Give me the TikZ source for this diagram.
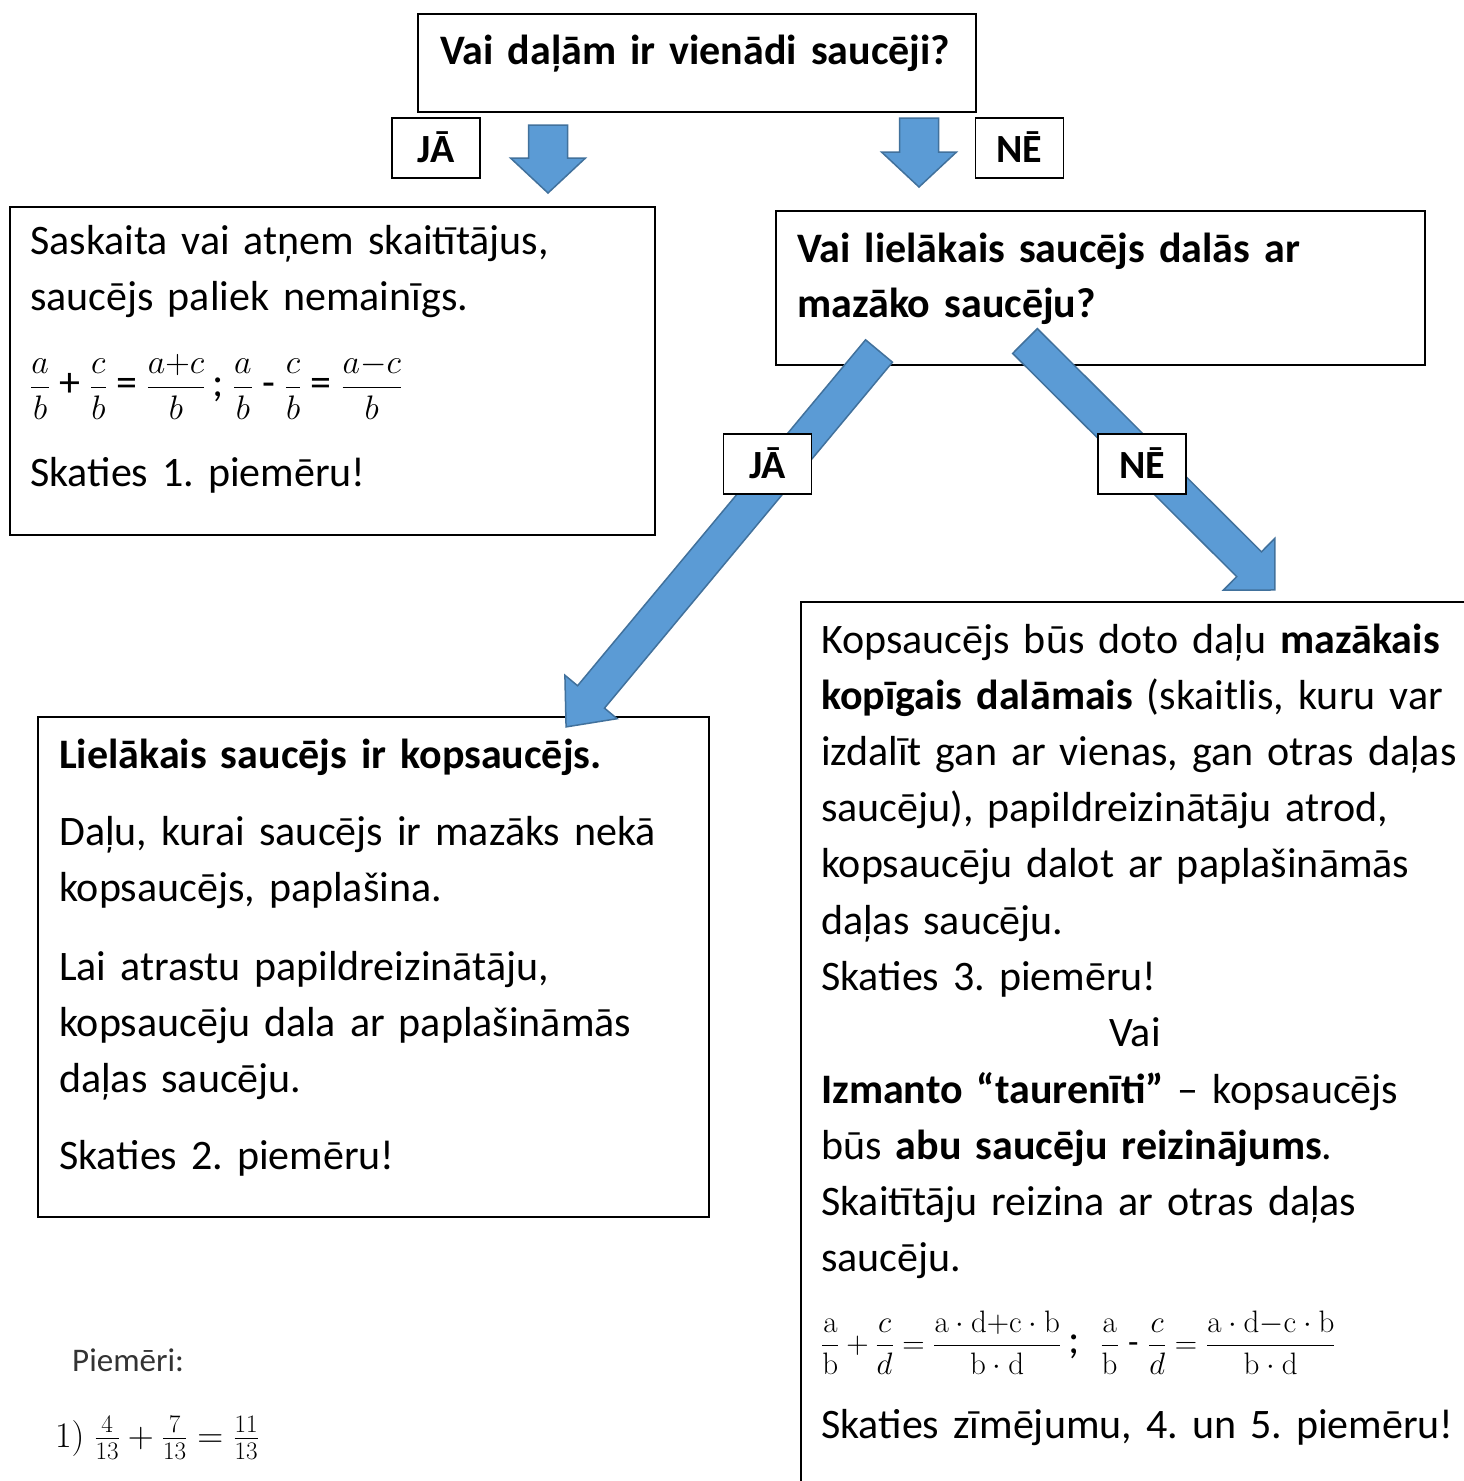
\RequirePackage{fix-cm}
\documentclass[tikz,border=0pt]{standalone}
\usepackage{amsmath}
\usepackage[no-math]{fontspec}
\setmainfont{Carlito}
\usetikzlibrary{calc}
\definecolor{arrfill}{HTML}{5B9BD5}
\definecolor{arrline}{HTML}{41719C}
\newcommand\mf[1]{{\fontsize{34}{40}\selectfont$\displaystyle #1$}}
\newcommand\mfr[1]{{\fontsize{31}{37}\selectfont$\displaystyle #1$}}
\newcommand\blockarrow[5]{%
  \path let \p1=($(#2)-(#1)$) in
    \pgfextra{\pgfmathsetmacro\baang{atan2(\y1,\x1)}\global\let\baang\baang
      \pgfmathsetmacro\balen{veclen(\x1,\y1)}\global\let\balen\balen};
  \filldraw[barrow,shift={(#1)},rotate=\baang]
    (0pt,#3pt) -- ({\balen*1pt-#5pt},#3pt) -- ({\balen*1pt-#5pt},#4pt) -- ({\balen*1pt},0pt)
    -- ({\balen*1pt-#5pt},-#4pt) -- ({\balen*1pt-#5pt},-#3pt) -- (0pt,-#3pt) -- cycle;}
\begin{document}
\frenchspacing
\begin{tikzpicture}[x=1pt,y=-1pt,
  box/.style={draw=black,line width=1.6pt,inner sep=0pt,anchor=north west},
  lbl/.style={draw=black,line width=1.6pt,fill=white,inner sep=0pt,minimum width=88pt,minimum height=60pt,font=\bfseries\fontsize{40}{48}\selectfont},
  txt/.style={anchor=base west,inner sep=0pt,align=left,text width=#1,font=\fontsize{42}{56.2}\selectfont},
  txt/.default=640pt,
  barrow/.style={fill=arrfill,draw=arrline,line width=1.5pt,line join=miter}]
\useasboundingbox (0,0) rectangle (1464,1481);
\fill[white] (0,0) rectangle (1464,1481);

% boxes
\node[box,minimum width=558pt,minimum height=98pt] (q1) at (417,13) {};
\node[box,minimum width=645pt,minimum height=328pt] (lb) at (9,206) {};
\node[box,minimum width=649pt,minimum height=154pt] (q2) at (775,210) {};
\node[box,minimum width=671pt,minimum height=500pt] (bb) at (37,716) {};
\node[box,minimum width=700pt,minimum height=950pt] (rb) at (800,601) {};

% texts
\node[txt=540pt,font=\bfseries\fontsize{42}{56}\selectfont] (q1t) at (440,64) {Vai daļām ir vienādi saucēji?};
\node[txt=620pt] (lt1) at (30,254) {Saskaita vai atņem skaitītājus,\\saucējs paliek nemainīgs.};
\node[anchor=base west,inner sep=0pt,font=\fontsize{42}{56}\selectfont] (lf) at (30,396)
  {\mf{\frac{a}{b}} + \mf{\frac{c}{b}} = \mf{\frac{a{+}c}{b}}\,; \mf{\frac{a}{b}} - \mf{\frac{c}{b}} = \mf{\frac{a{-}c}{b}}};
\node[txt=620pt] (lt2) at (30,486) {Skaties 1. piemēru!};

\node[txt=620pt,font=\bfseries\fontsize{42}{55}\selectfont] (q2t) at (797,262) {Vai lielākais saucējs dalās ar\\mazāko saucēju?};

\node[txt=650pt,font=\bfseries\fontsize{42}{56}\selectfont] (b1) at (59,768) {Lielākais saucējs ir kopsaucējs.};
\node[txt=650pt] (b2) at (59,845) {Daļu, kurai saucējs ir mazāks nekā\\kopsaucējs, paplašina.};
\node[txt=650pt] (b3) at (59,980) {Lai atrastu papildreizinātāju,\\kopsaucēju dala ar paplašināmās\\daļas saucēju.};
\node[txt=650pt] (b4) at (59,1169) {Skaties 2. piemēru!};

\node[txt=700pt] (r1) at (821,653) {Kopsaucējs būs doto daļu \textbf{mazākais}\\\textbf{kopīgais dalāmais} (skaitlis, kuru var\\izdalīt gan ar vienas, gan otras daļas\\saucēju), papildreizinātāju atrod,\\kopsaucēju dalot ar paplašināmās\\daļas saucēju.\\Skaties 3. piemēru!};
\node[anchor=base,inner sep=0pt,font=\fontsize{42}{56}\selectfont] (rvai) at (1135,1046) {Vai};
\node[txt=700pt] (r2) at (821,1103) {\textbf{Izmanto “taurenīti”} – kopsaucējs\\būs \textbf{abu saucēju reizinājums}.\\Skaitītāju reizina ar otras daļas\\saucēju.};
\node[anchor=base west,inner sep=0pt,font=\fontsize{42}{56}\selectfont] (rf) at (821,1353)
  {\mfr{\frac{\mathrm{a}}{\mathrm{b}}+\frac{c}{d}=\frac{\mathrm{a\cdot d{+}c\cdot b}}{\mathrm{b\cdot d}}}\,;\enspace\mfr{\frac{\mathrm{a}}{\mathrm{b}}} {\fontsize{34}{40}\selectfont -} \mfr{\frac{c}{d}=\frac{\mathrm{a\cdot d{-}c\cdot b}}{\mathrm{b\cdot d}}}};
\node[txt=700pt] (r3) at (821,1438) {Skaties zīmējumu, 4. un 5. piemēru!};

\node[anchor=base west,inner sep=0pt,text=black!80,font=\fontsize{33}{40}\selectfont] (pm) at (72,1371) {Piemēri:};
\node[anchor=base west,inner sep=0pt,font=\fontsize{36}{42}\selectfont] (p1) at (55,1447) {$1)\;\frac{4}{13}+\frac{7}{13}=\frac{11}{13}$};

% arrows
\coordinate (a1s) at (548,125); \coordinate (a1e) at (548,193);
\coordinate (a2s) at (919,118); \coordinate (a2e) at (919,187);
\coordinate (a3s) at (879,351); \coordinate (a3e) at (566,727);
\coordinate (a4s) at (1025,341); \coordinate (a4e) at (1275,590);
\blockarrow{a1s}{a1e}{19.5}{37.5}{35}
\blockarrow{a2s}{a2e}{19.5}{37.5}{35}
\blockarrow{a3s}{a3e}{17.5}{34}{39}
\blockarrow{a4s}{a4e}{17.5}{36.5}{36.5}

% labels
\node[lbl,text depth=2pt] (l1) at (436,148) {JĀ};
\node[lbl,text depth=2pt] (l2) at (1019.5,148) {NĒ};
\node[lbl,text depth=2pt] (l3) at (767.5,464) {JĀ};
\node[lbl,text depth=2pt] (l4) at (1142,464) {NĒ};
\end{tikzpicture}
\end{document}
